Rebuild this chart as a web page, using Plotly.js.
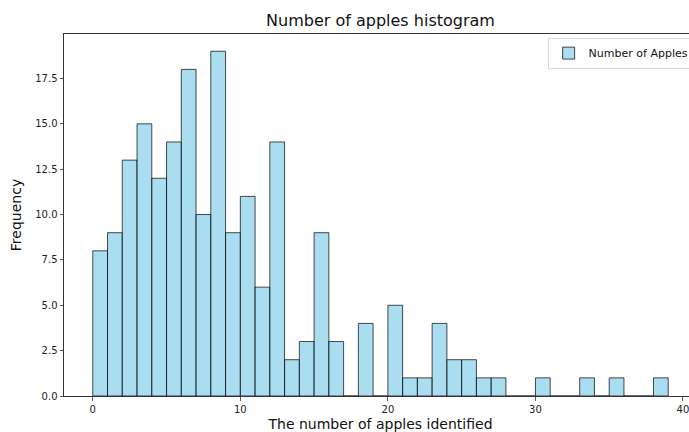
<!DOCTYPE html>
<html>
<head>
<meta charset="utf-8">
<script src="https://cdn.plot.ly/plotly-3.0.1.min.js"></script>
<style>
  html, body { margin: 0; padding: 0; overflow: hidden; background: #fff; }
  #chart { width: 712px; height: 432px; }
</style>
</head>
<body>
<div id="chart"></div>
<script>
// Histogram bins (left edges, width 1) and counts
const binStarts = [0,1,2,3,4,5,6,7,8,9,10,11,12,13,14,15,16,17,18,19,20,21,22,23,24,25,26,27,28,29,30,31,32,33,34,35,36,37,38];
const counts    = [8,9,13,15,12,14,18,10,19,9,11,6,14,2,3,9,3,0,4,0,5,1,1,4,2,2,1,1,0,0,1,0,0,1,0,1,0,0,1];
const xTicks = [0, 10, 20, 30, 40];
const yTicks = [0, 2.5, 5, 7.5, 10, 12.5, 15, 17.5];
const seriesName = 'Number of Apples';

const font = 'DejaVu Sans, sans-serif';

const trace = {
  type: 'bar',
  x: binStarts,
  y: counts,
  width: 1,
  offset: 0,
  name: seriesName,
  marker: {
    color: 'rgba(135,206,235,0.7)',
    line: { color: 'rgba(0,0,0,0.7)', width: 1 }
  },
  hoverinfo: 'x+y'
};

const layout = {
  width: 712,
  height: 432,
  margin: { l: 64, r: 15, t: 34, b: 36 },
  paper_bgcolor: '#fff',
  plot_bgcolor: '#fff',
  font: { family: font, size: 10, color: '#222' },
  title: {
    text: 'Number of apples histogram',
    font: { family: font, size: 16, color: '#111' },
    x: 0.5, xref: 'paper', xanchor: 'center',
    y: 0.953, yref: 'container', yanchor: 'middle'
  },
  bargap: 0,
  xaxis: {
    range: [-1.95, 40.95],
    tickvals: xTicks,
    ticktext: xTicks.map(String),
    ticks: 'outside', ticklen: 3.5, tickwidth: 0.8, tickcolor: '#333',
    showline: true, linecolor: '#333', linewidth: 1, mirror: true,
    showgrid: false, zeroline: false,
    tickfont: { family: font, size: 10, color: '#222' },
    title: { text: 'The number of apples identified', font: { family: font, size: 14, color: '#111' }, standoff: 6 }
  },
  yaxis: {
    range: [0, 19.95],
    tickvals: yTicks,
    ticktext: yTicks.map(v => v.toFixed(1)),
    ticks: 'outside', ticklen: 3.5, tickwidth: 0.8, tickcolor: '#333',
    showline: true, linecolor: '#333', linewidth: 1, mirror: true,
    showgrid: false, zeroline: false,
    tickfont: { family: font, size: 10, color: '#222' },
    title: { text: 'Frequency', font: { family: font, size: 14, color: '#111' }, standoff: 10 }
  },
  showlegend: true,
  legend: {
    x: 0.764, y: 0.99, xanchor: 'left', yanchor: 'top',
    bgcolor: 'rgba(255,255,255,0.8)', bordercolor: '#d8d8d8', borderwidth: 1,
    font: { family: font, size: 11, color: '#111' }
  }
};

Plotly.newPlot('chart', [trace], layout, { displayModeBar: false, staticPlot: true });
</script>
</body>
</html>
